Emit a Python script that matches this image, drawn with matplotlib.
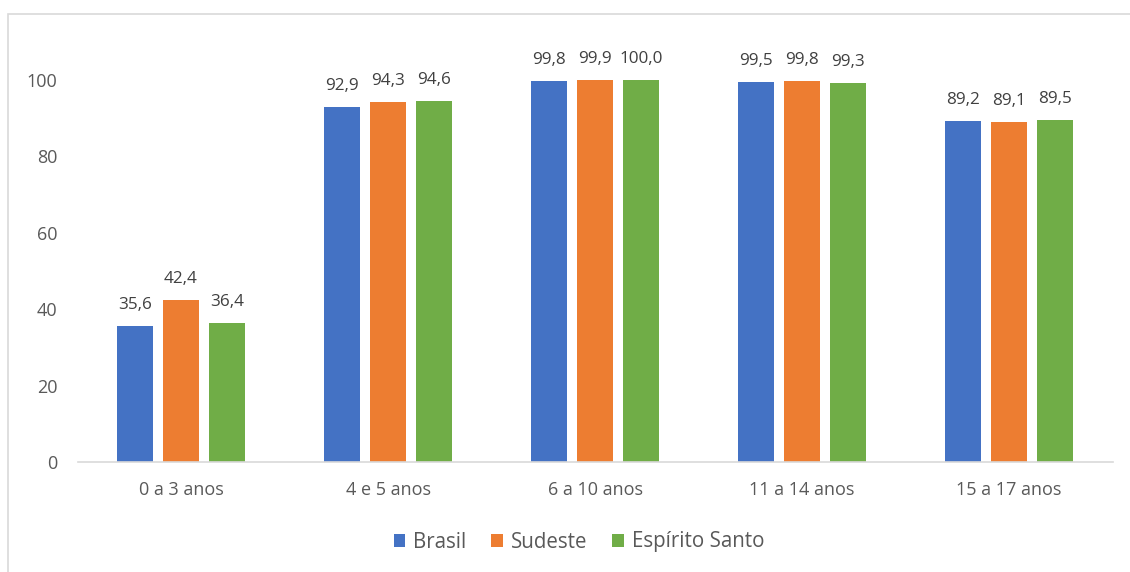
import matplotlib
matplotlib.use('Agg')
import matplotlib.pyplot as plt
from matplotlib.patches import Rectangle
import numpy as np

plt.rcParams['font.family'] = ['Open Sans', 'DejaVu Sans']

categories = ['0 a 3 anos', '4 e 5 anos', '6 a 10 anos', '11 a 14 anos', '15 a 17 anos']
series_names = ['Brasil', 'Sudeste', 'Espírito Santo']
brasil = [35.6, 92.9, 99.8, 99.5, 89.2]
sudeste = [42.4, 94.3, 99.9, 99.8, 89.1]
espirito_santo = [36.4, 94.6, 100.0, 99.3, 89.5]
yticks = [0, 20, 40, 60, 80, 100]

colors = ['#4472C4', '#ED7D31', '#70AD47']
W, H = 1130, 572
fig = plt.figure(figsize=(W / 100, H / 100), dpi=100)

# moldura do gráfico (só as bordas esquerda e superior aparecem)
fig.patches.append(Rectangle((8 / W, -0.1), 1.2, 1 - 14 / H + 0.1, transform=fig.transFigure,
                             fill=False, edgecolor='#D9D9D9', linewidth=1.2))

ax = fig.add_axes([77.5 / W, 1 - 462 / H, (1112.5 - 77.5) / W, (462 - 42) / H])
x = np.arange(len(categories))
bw = 0.174
step = 0.222
for i, (vals, c, name) in enumerate(zip([brasil, sudeste, espirito_santo], colors, series_names)):
    xs = x + (i - 1) * step
    ax.bar(xs, vals, width=bw, color=c, label=name, zorder=2)
    for xi, v in zip(xs, vals):
        ax.text(xi, v + 3.4, f'{v:.1f}'.replace('.', ','), ha='center', va='bottom',
                fontsize=12.3, color='#404040')

ax.set_xlim(-0.5, len(categories) - 0.5)
ax.set_ylim(0, 100 * 420 / 382)
ax.set_yticks(yticks)
ax.set_yticklabels([str(t) for t in yticks], fontsize=13, color='#595959')
ax.set_xticks(x)
ax.set_xticklabels(categories, fontsize=13, color='#595959')
ax.tick_params(axis='both', length=0)
ax.tick_params(axis='y', pad=14.5)
ax.tick_params(axis='x', pad=14)
for s in ['top', 'right', 'left']:
    ax.spines[s].set_visible(False)
ax.spines['bottom'].set_color('#D9D9D9')
ax.spines['bottom'].set_linewidth(1.2)

ax.legend(loc='center', bbox_to_anchor=(0.4845, (462 - 542) / 420), ncol=3, frameon=False,
          fontsize=14.8, handlelength=0.58, handleheight=0.58, handletextpad=0.38,
          columnspacing=1.2, labelcolor='#595959')

fig.savefig('out.png', dpi=100)
